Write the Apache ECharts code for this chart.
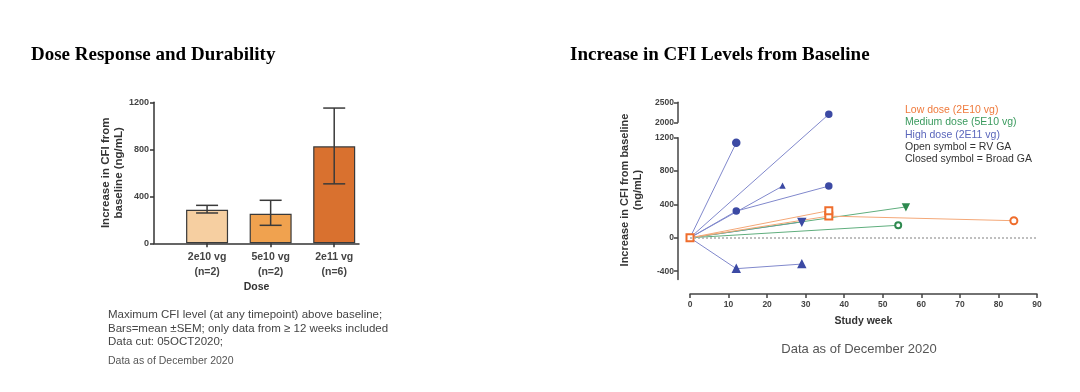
<!DOCTYPE html>
<html><head><meta charset="utf-8">
<script src="https://cdn.jsdelivr.net/npm/echarts@6/dist/echarts.min.js"></script>
<style>html,body{margin:0;padding:0;background:#fff}#c{width:1080px;height:392px}</style>
</head><body><div id="c"></div>
<script>
// ---------- Left chart data ----------
const doseLabels = ['2e10 vg', '5e10 vg', '2e11 vg'];
const doseN = ['(n=2)', '(n=2)', '(n=6)'];
const barMeans = [286, 252, 825];
const semLow = [258, 153, 506];
const semHigh = [323, 366, 1151];

// ---------- Right chart data (study week, increase in CFI) ----------
const lowDose1 = [[0, 0], [36, 325]];
const lowDose2 = [[0, 0], [36, 260], [84, 205]];
const medDose1 = [[0, 0], [56, 370]];
const medDose2 = [[0, 0], [54, 150]];
const highDose1 = [[0, 0], [12, 1140]];
const highDose2 = [[0, 0], [36, 2200]];
const highDose3 = [[0, 0], [12, 320], [36, 620]];
const highDose4 = [[0, 0], [24, 620]];
const highDose5 = [[0, 0], [12, -370], [29, -315]];
const highDose6 = [[0, 0], [29, 190]];
const lowerYTicks = [-400, 0, 400, 800, 1200];
const upperYTicks = [2000, 2500];

// ---------- layout ----------
const FONT = 'Liberation Sans, Arial, sans-serif';
const L = {left: 154, top: 102.3, width: 205, height: 141};
const RL = {left: 690, top: 137.7, width: 347, height: 141.8, min: -500, max: 1200};
const RU = {left: 690, top: 102.3, width: 347, height: 20, min: 2000, max: 2500};

// broken-axis scale: values above lower max are mapped into the upper segment
const lowerPxPerUnit = RL.height / (RL.max - RL.min);
const upperPxPerUnit = RU.height / (RU.max - RU.min);
const gapUnits = (RL.top - (RU.top + RU.height)) / lowerPxPerUnit;
function brk(v) {
  if (v <= RL.max) return v;
  return RL.max + gapUnits + (v - RU.min) * upperPxPerUnit / lowerPxPerUnit;
}

const chart = echarts.init(document.getElementById('c'));

const HIGH = {line: '#8088cc', mark: '#3c4aa4'};
const MED = {line: '#5fae7d', mark: '#2f8a50'};
const LOW = {line: '#f4a878', mark: '#ef6d2c'};

function subject(name, data, col, symbols, sizes) {
  return {
    name, type: 'line', xAxisIndex: 1, yAxisIndex: 1, clip: false,
    data: data.map((p, i) => ({
      value: [p[0], brk(p[1])],
      symbol: symbols[i],
      symbolSize: sizes[i],
    })),
    lineStyle: {color: col.line, width: 1},
    itemStyle: {color: col.mark, borderColor: col.mark, borderWidth: 1.5},
    emphasis: {disabled: true},
    silent: true, z: 3
  };
}

const axisLineStyle = {color: '#333', width: 1.5};
const rAxisLineStyle = {color: '#444', width: 1.5};
const plain = v => String(v);

const option = {
  animation: false,
  grid: [
    {left: L.left, top: L.top, width: L.width, height: L.height},
    {left: RL.left, top: RL.top, width: RL.width, height: RL.height},
    {left: RU.left, top: RU.top, width: RU.width, height: RU.height}
  ],
  xAxis: [
    {gridIndex: 0, type: 'value', min: 0.165, max: 3.39,
     axisLine: {show: true, onZero: false, lineStyle: axisLineStyle},
     axisTick: {show: true, customValues: [1, 2, 3], length: 4, lineStyle: axisLineStyle},
     axisLabel: {customValues: [1, 2, 3], margin: 6,
       formatter: v => { const i = Math.round(v) - 1; return '{a|' + doseLabels[i] + '}\n{a|' + doseN[i] + '}'; },
       rich: {a: {fontFamily: FONT, fontSize: 10.5, fontWeight: 'bold', color: '#444', lineHeight: 15, align: 'center'}}},
     splitLine: {show: false},
     name: 'Dose', nameLocation: 'middle', nameGap: 38,
     nameTextStyle: {fontFamily: FONT, fontSize: 10.5, fontWeight: 'bold', color: '#333'}},
    {gridIndex: 1, type: 'value', min: 0, max: 90, interval: 10, offset: 14.5,
     axisLine: {show: true, onZero: false, lineStyle: rAxisLineStyle},
     axisTick: {show: true, length: 4, lineStyle: rAxisLineStyle},
     axisLabel: {fontFamily: FONT, fontSize: 8.5, fontWeight: 'bold', color: '#444', margin: 6},
     splitLine: {show: false},
     name: 'Study week', nameLocation: 'middle', nameGap: 22,
     nameTextStyle: {fontFamily: FONT, fontSize: 10.5, fontWeight: 'bold', color: '#333'}},
    {gridIndex: 2, type: 'value', min: 0, max: 90, show: false}
  ],
  yAxis: [
    {gridIndex: 0, type: 'value', min: 0, max: 1200, interval: 400,
     axisLine: {show: true, onZero: false, lineStyle: axisLineStyle},
     axisTick: {show: true, length: 4, lineStyle: axisLineStyle},
     axisLabel: {formatter: plain, fontFamily: FONT, fontSize: 9, fontWeight: 'bold', color: '#444', margin: 5},
     splitLine: {show: false},
     name: 'Increase in CFI from\nbaseline (ng/mL)', nameLocation: 'middle', nameGap: 24,
     nameTextStyle: {fontFamily: FONT, fontSize: 11.5, fontWeight: 'bold', color: '#333', lineHeight: 13}},
    {gridIndex: 1, type: 'value', min: RL.min, max: RL.max, offset: 12,
     axisLine: {show: true, onZero: false, lineStyle: rAxisLineStyle},
     axisTick: {show: true, length: 4, customValues: lowerYTicks, lineStyle: rAxisLineStyle},
     axisLabel: {customValues: lowerYTicks, formatter: plain, fontFamily: FONT, fontSize: 8.5, fontWeight: 'bold', color: '#444', margin: 4},
     splitLine: {show: false}},
    {gridIndex: 2, type: 'value', min: RU.min, max: RU.max, offset: 12,
     axisLine: {show: true, onZero: false, lineStyle: rAxisLineStyle},
     axisTick: {show: true, length: 4, customValues: upperYTicks, lineStyle: rAxisLineStyle},
     axisLabel: {customValues: upperYTicks, formatter: plain, fontFamily: FONT, fontSize: 8.5, fontWeight: 'bold', color: '#444', margin: 4},
     splitLine: {show: false}}
  ],
  series: [
    {type: 'bar', xAxisIndex: 0, yAxisIndex: 0, barWidth: 42, silent: true,
     data: barMeans.map((v, i) => ({value: [i + 1, v],
       itemStyle: {color: ['#f6cfa1', '#f0a24f', '#d9712f'][i]}})),
     itemStyle: {borderColor: '#3a3a3a', borderWidth: 1.2}, z: 2},
    {type: 'custom', xAxisIndex: 0, yAxisIndex: 0, silent: true, z: 4,
     data: semLow.map((lo, i) => [i + 1, lo, semHigh[i]]),
     renderItem: (params, api) => {
       const x = api.value(0);
       const lo = api.coord([x, api.value(1)]);
       const hi = api.coord([x, api.value(2)]);
       const w = 11;
       const st = {stroke: '#3a3a3a', lineWidth: 1.5};
       return {type: 'group', children: [
         {type: 'line', shape: {x1: lo[0], y1: lo[1], x2: hi[0], y2: hi[1]}, style: st},
         {type: 'line', shape: {x1: hi[0] - w, y1: hi[1], x2: hi[0] + w, y2: hi[1]}, style: st},
         {type: 'line', shape: {x1: lo[0] - w, y1: lo[1], x2: lo[0] + w, y2: lo[1]}, style: st}
       ]};
     }},
    // zero reference line
    {type: 'line', xAxisIndex: 1, yAxisIndex: 1, data: [], silent: true,
     markLine: {silent: true, symbol: 'none', label: {show: false},
       lineStyle: {type: [2, 2], color: '#aaa', width: 1.5},
       data: [{yAxis: 0}]}},
    subject('high1', highDose1, HIGH, ['none', 'circle'], [0, 7]),
    subject('high2', highDose2, HIGH, ['none', 'circle'], [0, 6]),
    subject('high3', highDose3, HIGH, ['none', 'circle', 'circle'], [0, 6, 6]),
    subject('high4', highDose4, HIGH, ['none', 'triangle'], [0, 4]),
    subject('high5', highDose5, HIGH, ['none', 'triangle', 'triangle'], [0, 7, 7]),
    subject('high6', highDose6, HIGH, ['none', 'path://M0,0L10,0L5,9Z'], [0, 7]),
    subject('med1', medDose1, MED, ['none', 'path://M0,0L10,0L5,9Z'], [0, 6]),
    subject('med2', medDose2, MED, ['none', 'emptyCircle'], [0, 6]),
    subject('low2', lowDose2, LOW, ['none', 'emptyRect', 'emptyCircle'], [0, 7, 7]),
    subject('low1', lowDose1, LOW, ['emptyRect', 'emptyRect'], [7, 7])
  ],
  graphic: [
    {type: 'text', x: 31, y: 55, style: {text: 'Dose Response and Durability', verticalAlign: 'middle', font: 'bold 19px "Liberation Serif", "Times New Roman", serif', fill: '#000'}},
    {type: 'text', x: 570, y: 55, style: {text: 'Increase in CFI Levels from Baseline', verticalAlign: 'middle', font: 'bold 19px "Liberation Serif", "Times New Roman", serif', fill: '#000'}},
    {type: 'text', x: 631.5, y: 190, rotation: Math.PI / 2,
     style: {text: 'Increase in CFI from baseline\n(ng/mL)', align: 'center', verticalAlign: 'middle', lineHeight: 13,
       font: 'bold 11px "Liberation Sans", Arial, sans-serif', fill: '#333'}},
    {type: 'text', x: 905, y: 110, style: {text: 'Low dose (2E10 vg)', verticalAlign: 'middle', font: '10.5px "Liberation Sans", Arial, sans-serif', fill: '#ef7a3c'}},
    {type: 'text', x: 905, y: 122.3, style: {text: 'Medium dose (5E10 vg)', verticalAlign: 'middle', font: '10.5px "Liberation Sans", Arial, sans-serif', fill: '#3a9a5e'}},
    {type: 'text', x: 905, y: 134.7, style: {text: 'High dose (2E11 vg)', verticalAlign: 'middle', font: '10.5px "Liberation Sans", Arial, sans-serif', fill: '#5a66bb'}},
    {type: 'text', x: 905, y: 147, style: {text: 'Open symbol = RV GA', verticalAlign: 'middle', font: '10.5px "Liberation Sans", Arial, sans-serif', fill: '#333'}},
    {type: 'text', x: 905, y: 159.3, style: {text: 'Closed symbol = Broad GA', verticalAlign: 'middle', font: '10.5px "Liberation Sans", Arial, sans-serif', fill: '#333'}},
    {type: 'text', x: 108, y: 315, style: {text: 'Maximum CFI level (at any timepoint) above baseline;', verticalAlign: 'middle', font: '11.5px "Liberation Sans", Arial, sans-serif', fill: '#444'}},
    {type: 'text', x: 108, y: 328.5, style: {text: 'Bars=mean \u00b1SEM; only data from \u2265 12 weeks included', verticalAlign: 'middle', font: '11.5px "Liberation Sans", Arial, sans-serif', fill: '#444'}},
    {type: 'text', x: 108, y: 342, style: {text: 'Data cut: 05OCT2020;', verticalAlign: 'middle', font: '11.5px "Liberation Sans", Arial, sans-serif', fill: '#444'}},
    {type: 'text', x: 108, y: 361, style: {text: 'Data as of December 2020', verticalAlign: 'middle', font: '10.5px "Liberation Sans", Arial, sans-serif', fill: '#555'}},
    {type: 'text', x: 859, y: 349, style: {text: 'Data as of December 2020', align: 'center', verticalAlign: 'middle', font: '13px "Liberation Sans", Arial, sans-serif', fill: '#555'}}
  ]
};
chart.setOption(option);
</script></body></html>
